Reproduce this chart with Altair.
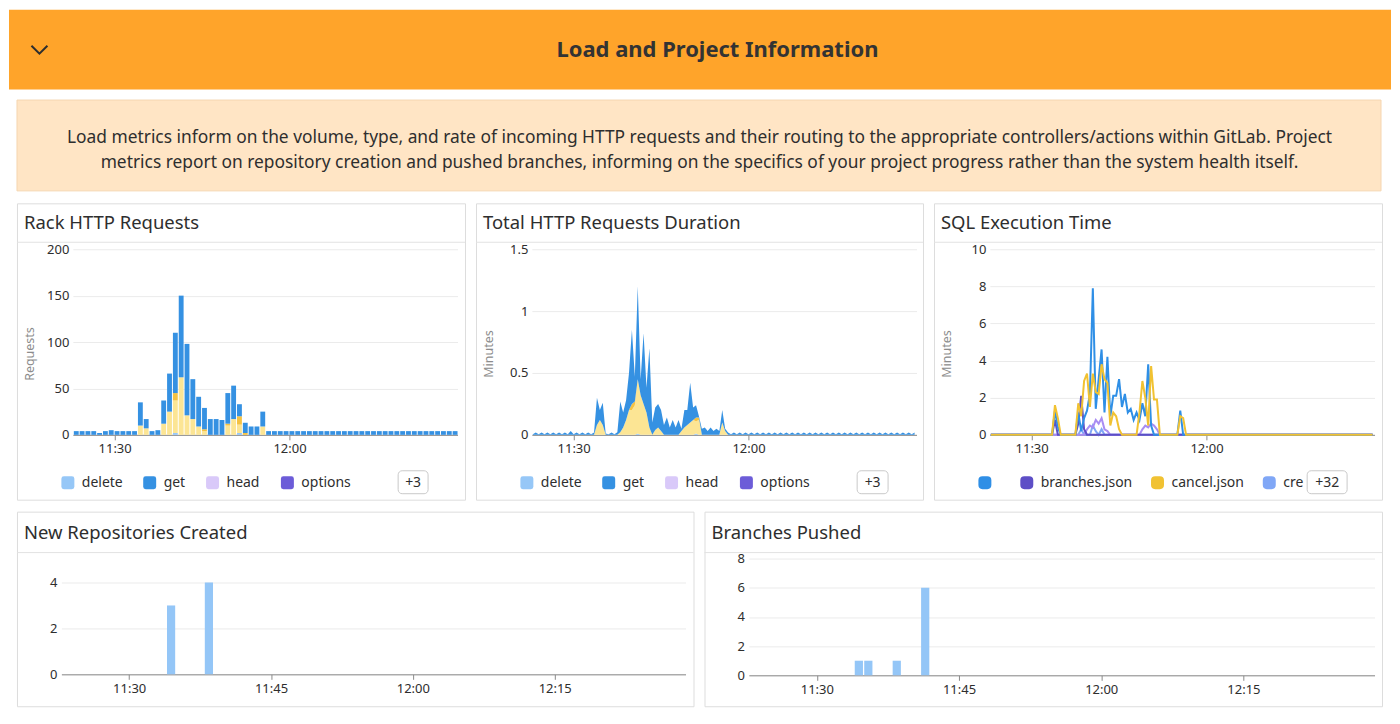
import altair as alt
import pandas as pd

# ------------------------------------------------------------------ style
FONT = "Noto Sans"
INK = "#2e2e2e"
MUTED = "#8c8c8c"
GRID = "#ebebeb"
AXIS_LINE = "#8a8a8a"
FRAME = "#e2e2e2"
ORANGE = "#ffa42a"
PEACH = "#ffe5c5"
PEACH_EDGE = "#f5d6b1"
BAR_BLUE = "#94c6f7"
ROUNDED_SQUARE = "M-0.62,-1H0.62Q1,-1,1,-0.62V0.62Q1,1,0.62,1H-0.62Q-1,1,-1,0.62V-0.62Q-1,-1,-0.62,-1Z"
SMALL_ROUNDED = "M-0.8,-1H0.8Q1,-1,1,-0.8V0.8Q1,1,0.8,1H-0.8Q-1,1,-1,0.8V-0.8Q-1,-1,-0.8,-1Z"
CHEVRON = "M-1,-0.5L0,0.5L1,-0.5"

# ------------------------------------------------------------------ texts
HEADER_TITLE = "Load and Project Information"
DESC_LINE_1 = ("Load metrics inform on the volume, type, and rate of incoming HTTP requests and their "
               "routing to the appropriate controllers/actions within GitLab. Project")
DESC_LINE_2 = ("metrics report on repository creation and pushed branches, informing on the specifics "
               "of your project progress rather than the system health itself.")
PANEL_TITLES = ["Rack HTTP Requests", "Total HTTP Requests Duration", "SQL Execution Time",
                "New Repositories Created", "Branches Pushed"]

# ------------------------------------------------------------------ time
SERIES_START = "2024-01-01 11:23:00"
def dt(h, m, s=0):
    return alt.DateTime(year=2024, month=1, date=1, hours=h, minutes=m, seconds=s)
X_DOMAIN = [dt(11, 22, 50), dt(12, 28, 50)]
TOP_TICKS = [dt(11, 30), dt(12, 0)]
BOTTOM_TICKS = [dt(11, 30), dt(11, 45), dt(12, 0), dt(12, 15)]

# ------------------------------------------------------------------ Rack HTTP Requests (per minute from 11:23)
RACK_METHODS = ["delete", "get", "head", "options", "patch", "post", "put"]
RACK_COLORS = ["#96c7f7", "#3591e2", "#d9c9f9", "#6c5cd8", "#f4a7c6", "#fce594", "#f5c242"]
RACK_STACK = ["delete", "post", "put", "patch", "head", "options", "get"]
RACK_LEGEND = ["delete", "get", "head", "options"]

rack_get = [4, 4, 4, 4, 2, 4, 5, 4, 4, 4,
            4, 25, 10, 4, 5, 25, 41, 65, 88, 77,
            43, 32, 23, 17, 17, 16, 33, 36, 13, 11,
            9, 9, 16, 4, 4, 4, 4, 4, 4, 4,
            4, 4, 4, 4, 4, 4, 4, 4, 4, 4,
            4, 4, 4, 4, 4, 4, 4, 4, 4, 4,
            4, 4, 4, 4, 4, 4]
rack_post = [0, 0, 0, 0, 0, 0, 0, 0, 0, 0,
             0, 10, 7, 0, 0, 12, 25, 35, 62, 21,
             17, 9, 4, 0, 0, 0, 10, 17, 9, 0,
             0, 0, 9, 0, 0, 0, 0, 0, 0, 0,
             0, 0, 0, 0, 0, 0, 0, 0, 0, 0,
             0, 0, 0, 0, 0, 0, 0, 0, 0, 0,
             0, 0, 0, 0, 0, 0]
rack_put = [0, 0, 0, 0, 0, 0, 0, 0, 0, 0,
            0, 0, 0, 0, 0, 0, 0, 8, 0, 0,
            0, 0, 2, 0, 0, 0, 2, 0, 9, 2,
            0, 0, 0, 0, 0, 0, 0, 0, 0, 0,
            0, 0, 0, 0, 0, 0, 0, 0, 0, 0,
            0, 0, 0, 0, 0, 0, 0, 0, 0, 0,
            0, 0, 0, 0, 0, 0]
rack_delete = [0, 0, 0, 0, 0, 0, 0, 0, 0, 0,
               0, 0, 0, 0, 0, 0, 0, 2, 0, 0,
               0, 0, 0, 0, 0, 0, 0, 0, 2, 0,
               0, 0, 0, 0, 0, 0, 0, 0, 0, 0,
               0, 0, 0, 0, 0, 0, 0, 0, 0, 0,
               0, 0, 0, 0, 0, 0, 0, 0, 0, 0,
               0, 0, 0, 0, 0, 0]

# ------------------------------------------------------------------ Total HTTP Requests Duration (minutes, every 30 s from 11:23)
dur_get = [0.004, 0.018, 0.004, 0.018, 0.004, 0.018, 0.004, 0.018, 0.004, 0.018, 0.004, 0.018,
           0.004, 0.03, 0.004, 0.018, 0.004, 0.018, 0.004, 0.018, 0.004, 0.018, 0.22, 0.08,
           0.18, 0.01, 0.004, 0.018, 0.005, 0.02, 0.25, 0.12, 0.16, 0.3, 0.6, 0.2,
           0.75, 0.13, 0.57, 0.2, 0.64, 0.1, 0.18, 0.19, 0.17, 0.08, 0.14, 0.06,
           0.12, 0.06, 0.12, 0.02, 0.14, 0.12, 0.32, 0.1, 0.1, 0.01, 0.05, 0.06,
           0.03, 0.06, 0.03, 0.05, 0.03, 0.1, 0.02, 0.018, 0.004, 0.018, 0.004, 0.018,
           0.004, 0.018, 0.004, 0.018, 0.004, 0.018, 0.004, 0.018, 0.004, 0.018, 0.004, 0.018,
           0.004, 0.018, 0.004, 0.018, 0.004, 0.018, 0.004, 0.018, 0.004, 0.018, 0.004, 0.018,
           0.004, 0.018, 0.004, 0.018, 0.004, 0.018, 0.004, 0.018, 0.004, 0.018, 0.004, 0.018,
           0.004, 0.018, 0.004, 0.018, 0.004, 0.018, 0.004, 0.018, 0.004, 0.018, 0.004, 0.018,
           0.004, 0.018, 0.004, 0.018, 0.004, 0.018, 0.004, 0.018, 0.004, 0.018, 0.004, 0.018]
dur_post = [0, 0, 0, 0, 0, 0, 0, 0, 0, 0, 0, 0,
            0, 0, 0, 0, 0, 0, 0, 0, 0, 0, 0.08, 0.12,
            0.08, 0, 0, 0, 0, 0, 0.02, 0.06, 0.12, 0.2, 0.2, 0.24,
            0.44, 0.32, 0.25, 0.18, 0.06, 0, 0.04, 0.06, 0.03, 0, 0, 0,
            0, 0, 0, 0.03, 0.06, 0.08, 0.1, 0.12, 0.1, 0.12, 0, 0,
            0, 0, 0, 0, 0, 0.1, 0.03, 0, 0, 0, 0, 0,
            0, 0, 0, 0, 0, 0, 0, 0, 0, 0, 0, 0,
            0, 0, 0, 0, 0, 0, 0, 0, 0, 0, 0, 0,
            0, 0, 0, 0, 0, 0, 0, 0, 0, 0, 0, 0,
            0, 0, 0, 0, 0, 0, 0, 0, 0, 0, 0, 0,
            0, 0, 0, 0, 0, 0, 0, 0, 0, 0, 0, 0]
dur_put = [0, 0, 0, 0, 0, 0, 0, 0, 0, 0, 0, 0,
           0, 0, 0, 0, 0, 0, 0, 0, 0, 0, 0, 0,
           0, 0, 0, 0, 0, 0, 0, 0, 0, 0, 0.05, 0.03,
           0, 0, 0, 0, 0, 0, 0, 0, 0, 0, 0, 0,
           0, 0, 0, 0, 0, 0, 0, 0, 0.03, 0.02, 0, 0,
           0, 0, 0, 0, 0, 0, 0, 0, 0, 0, 0, 0,
           0, 0, 0, 0, 0, 0, 0, 0, 0, 0, 0, 0,
           0, 0, 0, 0, 0, 0, 0, 0, 0, 0, 0, 0,
           0, 0, 0, 0, 0, 0, 0, 0, 0, 0, 0, 0,
           0, 0, 0, 0, 0, 0, 0, 0, 0, 0, 0, 0,
           0, 0, 0, 0, 0, 0, 0, 0, 0, 0, 0, 0]
dur_delete = [0, 0, 0, 0, 0, 0, 0, 0, 0, 0, 0, 0,
              0, 0, 0, 0, 0, 0, 0, 0, 0, 0, 0, 0,
              0, 0, 0, 0, 0, 0, 0, 0, 0, 0, 0, 0,
              0.01, 0, 0, 0, 0, 0, 0, 0, 0, 0, 0, 0,
              0, 0, 0, 0, 0, 0, 0, 0, 0.01, 0, 0, 0,
              0, 0, 0, 0, 0, 0, 0, 0, 0, 0, 0, 0,
              0, 0, 0, 0, 0, 0, 0, 0, 0, 0, 0, 0,
              0, 0, 0, 0, 0, 0, 0, 0, 0, 0, 0, 0,
              0, 0, 0, 0, 0, 0, 0, 0, 0, 0, 0, 0,
              0, 0, 0, 0, 0, 0, 0, 0, 0, 0, 0, 0,
              0, 0, 0, 0, 0, 0, 0, 0, 0, 0, 0, 0]

# ------------------------------------------------------------------ SQL Execution Time (minutes, every 30 s from 11:23)
SQL_SERIES = ["", "branches.json", "cancel.json", "create.json", "diffs.json"]
SQL_COLORS = ["#2f8fe6", "#5d4ec6", "#f1c232", "#80a7f6", "#a98df2"]
SQL_LEGEND = ["", "branches.json", "cancel.json", "create.json"]
SQL_DRAW_ORDER = ["create.json", "diffs.json", "branches.json", "", "cancel.json"]

sql_blank = [0, 0, 0, 0, 0, 0, 0, 0, 0, 0, 0, 0,
             0, 0, 0, 0, 0, 0, 0, 0, 0, 0, 1.3, 0.4,
             0, 0, 0, 0, 0, 0, 1.2, 0.2, 0.9, 1.3, 2.2, 7.9,
             1.4, 3.0, 4.6, 1.2, 4.2, 1.0, 2.1, 2.1, 3.0, 1.5, 2.2, 1.2,
             1.4, 0.8, 1.2, 0.8, 1.7, 1.0, 3.8, 0.5, 0, 0, 0, 0,
             0, 0, 0, 0, 0, 1.3, 0, 0, 0, 0, 0, 0,
             0, 0, 0, 0, 0, 0, 0, 0, 0, 0, 0, 0,
             0, 0, 0, 0, 0, 0, 0, 0, 0, 0, 0, 0,
             0, 0, 0, 0, 0, 0, 0, 0, 0, 0, 0, 0,
             0, 0, 0, 0, 0, 0, 0, 0, 0, 0, 0, 0,
             0, 0, 0, 0, 0, 0, 0, 0, 0, 0, 0, 0]
sql_branches = [0, 0, 0, 0, 0, 0, 0, 0, 0, 0, 0, 0,
                0, 0, 0, 0, 0, 0, 0, 0, 0, 0, 0.8, 0,
                0, 0, 0, 0, 0, 0, 0.6, 2.1, 0.3, 0, 0, 0,
                0, 0, 0, 0, 0, 0, 0, 0, 0, 0, 0, 0,
                0, 0, 0, 0, 0, 0, 0, 0, 0, 0, 0, 0,
                0, 0, 0, 0, 0, 0, 0, 0, 0, 0, 0, 0,
                0, 0, 0, 0, 0, 0, 0, 0, 0, 0, 0, 0,
                0, 0, 0, 0, 0, 0, 0, 0, 0, 0, 0, 0,
                0, 0, 0, 0, 0, 0, 0, 0, 0, 0, 0, 0,
                0, 0, 0, 0, 0, 0, 0, 0, 0, 0, 0, 0,
                0, 0, 0, 0, 0, 0, 0, 0, 0, 0, 0, 0]
sql_cancel = [0, 0, 0, 0, 0, 0, 0, 0, 0, 0, 0, 0,
              0, 0, 0, 0, 0, 0, 0, 0, 0, 0, 1.6, 0.9,
              0, 0, 0, 0, 0, 0, 1.7, 1.0, 2.9, 3.3, 1.5, 3.3,
              2.3, 2.2, 3.8, 3.0, 2.8, 0.5, 1.2, 1.0, 0.3, 0, 0, 0,
              0, 0, 0, 1.2, 2.9, 2.0, 0.5, 3.7, 1.9, 1.9, 0, 0,
              0, 0, 0, 0, 0, 1.0, 0.9, 0, 0, 0, 0, 0,
              0, 0, 0, 0, 0, 0, 0, 0, 0, 0, 0, 0,
              0, 0, 0, 0, 0, 0, 0, 0, 0, 0, 0, 0,
              0, 0, 0, 0, 0, 0, 0, 0, 0, 0, 0, 0,
              0, 0, 0, 0, 0, 0, 0, 0, 0, 0, 0, 0,
              0, 0, 0, 0, 0, 0, 0, 0, 0, 0, 0, 0]
sql_create = [0, 0, 0, 0, 0, 0, 0, 0, 0, 0, 0, 0,
              0, 0, 0, 0, 0, 0, 0, 0, 0, 0, 0, 0,
              0, 0, 0, 0, 0, 0, 0, 0.3, 0, 0, 0, 0.5,
              0.2, 0, 0.3, 0, 0, 0, 0, 0, 0, 0, 0, 0,
              0, 0, 0, 0, 0, 0, 0, 0, 0, 0, 0, 0,
              0, 0, 0, 0, 0, 0, 0, 0, 0, 0, 0, 0,
              0, 0, 0, 0, 0, 0, 0, 0, 0, 0, 0, 0,
              0, 0, 0, 0, 0, 0, 0, 0, 0, 0, 0, 0,
              0, 0, 0, 0, 0, 0, 0, 0, 0, 0, 0, 0,
              0, 0, 0, 0, 0, 0, 0, 0, 0, 0, 0, 0,
              0, 0, 0, 0, 0, 0, 0, 0, 0, 0, 0, 0]
sql_diffs = [0, 0, 0, 0, 0, 0, 0, 0, 0, 0, 0, 0,
             0, 0, 0, 0, 0, 0, 0, 0, 0, 0, 0, 0,
             0, 0, 0, 0, 0, 0, 0, 0, 0, 0.3, 0.5, 0.4,
             0.8, 0.6, 0.9, 0.3, 0.2, 0, 0, 0, 0, 0, 0, 0,
             0, 0, 0, 0, 0.3, 0.5, 0.4, 0.6, 0.5, 0.3, 0, 0,
             0, 0, 0, 0, 0, 0, 0, 0, 0, 0, 0, 0,
             0, 0, 0, 0, 0, 0, 0, 0, 0, 0, 0, 0,
             0, 0, 0, 0, 0, 0, 0, 0, 0, 0, 0, 0,
             0, 0, 0, 0, 0, 0, 0, 0, 0, 0, 0, 0,
             0, 0, 0, 0, 0, 0, 0, 0, 0, 0, 0, 0,
             0, 0, 0, 0, 0, 0, 0, 0, 0, 0, 0, 0]

# ------------------------------------------------------------------ project metrics
repo_minutes = ["11:34", "11:38"]
repo_counts = [3, 4]
branch_minutes = ["11:34", "11:35", "11:38", "11:41"]
branch_counts = [1, 1, 1, 6]

# ------------------------------------------------------------------ tables
def iso(t):
    return t.strftime("%Y-%m-%dT%H:%M:%S")

start = pd.Timestamp(SERIES_START)
TOP_BAR = pd.Timedelta(seconds=50)
BOTTOM_BAR = pd.Timedelta(seconds=52)

rack_rows = []
for k in range(len(rack_get)):
    t0 = start + pd.Timedelta(minutes=k)
    for name, series in (("delete", rack_delete), ("post", rack_post), ("put", rack_put), ("get", rack_get)):
        if series[k] > 0:
            rack_rows.append({"t": iso(t0), "t_end": iso(t0 + TOP_BAR), "method": name,
                              "requests": series[k], "rank": RACK_STACK.index(name)})
rack_df = pd.DataFrame(rack_rows)

dur_rows = []
for i in range(len(dur_get)):
    t = iso(start + pd.Timedelta(seconds=30 * i))
    for name, series in (("delete", dur_delete), ("post", dur_post), ("put", dur_put), ("get", dur_get)):
        dur_rows.append({"t": t, "method": name, "minutes": series[i], "rank": RACK_STACK.index(name)})
dur_df = pd.DataFrame(dur_rows)

sql_values = {"": sql_blank, "branches.json": sql_branches, "cancel.json": sql_cancel,
              "create.json": sql_create, "diffs.json": sql_diffs}
sql_rows = []
for name in SQL_DRAW_ORDER:
    for i, v in enumerate(sql_values[name]):
        sql_rows.append({"t": iso(start + pd.Timedelta(seconds=30 * i)), "series": name, "minutes": v})
sql_df = pd.DataFrame(sql_rows)

def minute_bars(minutes, counts):
    rows = []
    for m, c in zip(minutes, counts):
        t0 = pd.Timestamp(f"2024-01-01 {m}:00")
        rows.append({"t": iso(t0), "t_end": iso(t0 + BOTTOM_BAR), "count": c})
    return pd.DataFrame(rows)

repo_df = minute_bars(repo_minutes, repo_counts)
branch_df = minute_bars(branch_minutes, branch_counts)

ONE = pd.DataFrame({"k": [0]})

# ------------------------------------------------------------------ helpers
def deco_text(text, x, y, size, color=INK, **kw):
    return alt.Chart(ONE).mark_text(text=text, font=FONT, fontSize=size, color=color, **kw).encode(
        x=alt.value(x), y=alt.value(y))

def deco_rect(x1, x2, y1, y2, **kw):
    return alt.Chart(ONE).mark_rect(**kw).encode(
        x=alt.value(x1), x2=alt.value(x2), y=alt.value(y1), y2=alt.value(y2))

def deco_hline(x1, x2, y, color):
    return alt.Chart(ONE).mark_rule(color=color, strokeWidth=1).encode(
        x=alt.value(x1), x2=alt.value(x2), y=alt.value(y))

def panel_head(title, width, title_y, rule_y):
    return [deco_text(title, 7, title_y, 18.5, align="left", baseline="middle"),
            deco_hline(0, width, rule_y, FRAME)]

def more_button(label, x1, x2, y1=268, y2=291):
    return [deco_rect(x1, x2, y1, y2, fill="white", stroke="#c9c9c9", strokeWidth=1, cornerRadius=4),
            deco_text(label, (x1 + x2) / 2, (y1 + y2) / 2 + 0.5, 14, align="center", baseline="middle")]

def y_title(text, x, y):
    return deco_text(text, x, y, 12.5, color=MUTED, angle=270, align="center", baseline="middle")

def left_spacer():
    return deco_rect(-8, 0, 0, 1, fill="white", opacity=0)

def time_x(field, rng, ticks, offset):
    return alt.X(f"{field}:T",
                 scale=alt.Scale(domain=X_DOMAIN, range=rng, nice=False, padding=0),
                 axis=alt.Axis(values=ticks, format="%H:%M", title=None, grid=False, domain=True,
                               domainColor=AXIS_LINE, domainWidth=1, ticks=True, tickColor=AXIS_LINE,
                               tickSize=5, tickWidth=1, labelPadding=3, labelFontSize=13,
                               labelColor=INK, labelFont=FONT, labelFlush=False, offset=offset))

def value_y(field, domain, rng, values, offset, pad=4, stack=None, label_expr=None):
    kw = {}
    if stack:
        kw["stack"] = stack
    akw = dict(values=values, title=None, grid=True, gridColor=GRID, gridWidth=1, domain=False,
               ticks=False, tickSize=0, labelPadding=pad, labelFontSize=13, labelColor=INK,
               labelFont=FONT, offset=offset)
    if label_expr:
        akw["labelExpr"] = label_expr
    return alt.Y(f"{field}:Q",
                 scale=alt.Scale(domain=domain, range=rng, nice=False, padding=0),
                 axis=alt.Axis(**akw), **kw)

def legend_for(values, x, y=273, label_expr=None, symbol=ROUNDED_SQUARE, size=169, stroke_w=0,
               col_pad=20):
    kw = dict(values=values, orient="none", legendX=x, legendY=y, direction="horizontal", title=None,
              symbolType=symbol, symbolSize=size, symbolStrokeWidth=stroke_w, symbolOpacity=1,
              labelFontSize=14, labelColor=INK, labelFont=FONT, labelOffset=7, columnPadding=col_pad,
              padding=0, labelLimit=300)
    if label_expr:
        kw["labelExpr"] = label_expr
    return alt.Legend(**kw)

TOP_W = [449, 448, 449]
TOP_H = 297
TOP_XR = [56, 441.5]
TOP_YR = [232, 46]

# ------------------------------------------------------------------ header
header = alt.layer(
    deco_rect(-8, 1377, 0, 80, fill=ORANGE),
    alt.Chart(ONE).mark_point(shape=CHEVRON, size=256, filled=False, stroke=INK, strokeWidth=2,
                              opacity=1).encode(x=alt.value(22.5), y=alt.value(40)),
    deco_text(HEADER_TITLE, 702, 40, 22, color="#333333", fontWeight="bold", align="center",
              baseline="middle"),
    deco_rect(0, 1367, 90.5, 181.5, fill=PEACH, stroke=PEACH_EDGE, strokeWidth=1),
    deco_text(DESC_LINE_1, 684, 129, 17.4, align="center", baseline="middle"),
    deco_text(DESC_LINE_2, 684, 154, 17.4, align="center", baseline="middle"),
).properties(width=1367, height=182, view=alt.ViewBackground(stroke="transparent", fill="transparent"))

# ------------------------------------------------------------------ panel 1
rack_color = alt.Color("method:N", scale=alt.Scale(domain=RACK_METHODS, range=RACK_COLORS),
                       legend=legend_for(RACK_LEGEND, 44))
p1_bars = alt.Chart(rack_df).mark_bar(opacity=1, orient="vertical").encode(
    x=time_x("t", TOP_XR, TOP_TICKS, -(TOP_H - TOP_YR[0])),
    x2="t_end:T",
    y=value_y("requests", [0, 200], TOP_YR, [0, 50, 100, 150, 200], -TOP_XR[0], stack="zero"),
    color=rack_color,
    order=alt.Order("rank:Q"),
)
p1 = alt.layer(left_spacer(), *panel_head(PANEL_TITLES[0], TOP_W[0], 20, 39),
               y_title("Requests", 13, 151), p1_bars, *more_button("+3", 382, 412)
               ).properties(width=TOP_W[0], height=TOP_H)

# ------------------------------------------------------------------ panel 2
dur_color = alt.Color("method:N", scale=alt.Scale(domain=RACK_METHODS, range=RACK_COLORS),
                      legend=legend_for(RACK_LEGEND, 44))
p2_area = alt.Chart(dur_df).mark_area(opacity=1, interpolate="linear").encode(
    x=time_x("t", TOP_XR, TOP_TICKS, -(TOP_H - TOP_YR[0])),
    y=value_y("minutes", [0, 1.5], TOP_YR, [0, 0.5, 1, 1.5], -TOP_XR[0], stack="zero",
              label_expr="format(datum.value, '~g')"),
    color=dur_color,
    order=alt.Order("rank:Q"),
)
p2 = alt.layer(*panel_head(PANEL_TITLES[1], TOP_W[1], 20, 39), y_title("Minutes", 13, 151),
               p2_area, *more_button("+3", 382, 413)).properties(width=TOP_W[1], height=TOP_H)

# ------------------------------------------------------------------ panel 3
sql_scale = alt.Scale(domain=SQL_SERIES, range=SQL_COLORS)
p3_lines = alt.Chart(sql_df).mark_line(strokeWidth=2, opacity=1, interpolate="linear").encode(
    x=time_x("t", TOP_XR, TOP_TICKS, -(TOP_H - TOP_YR[0])),
    y=value_y("minutes", [0, 10], TOP_YR, [0, 2, 4, 6, 8, 10], -TOP_XR[0]),
    color=alt.Color("series:N", scale=sql_scale,
                    legend=legend_for(SQL_LEGEND, 44, symbol=SMALL_ROUNDED, size=36, stroke_w=7,
                                      col_pad=8,
                                      label_expr="datum.label == 'create.json' ? 'cre' : datum.label")),
    detail="series:N",
)
p3 = alt.layer(*panel_head(PANEL_TITLES[2], TOP_W[2], 20, 39), y_title("Minutes", 13, 151),
               p3_lines, *more_button("+32", 374, 414)
               ).properties(width=TOP_W[2], height=TOP_H)

# ------------------------------------------------------------------ bottom panels
BOT_H = 195

p4_bars = alt.Chart(repo_df).mark_bar(color=BAR_BLUE, opacity=1, orient="vertical").encode(
    x=time_x("t", [44.5, 670], BOTTOM_TICKS, -(BOT_H - 163)),
    x2="t_end:T",
    y=value_y("count", [0, 5], [163, 48], [0, 2, 4], -44.5, pad=4.5),
)
p4 = alt.layer(left_spacer(), *panel_head(PANEL_TITLES[3], 678, 21, 41), p4_bars
               ).properties(width=678, height=BOT_H)

p5_bars = alt.Chart(branch_df).mark_bar(color=BAR_BLUE, opacity=1, orient="vertical").encode(
    x=time_x("t", [44.5, 671.5], BOTTOM_TICKS, -(BOT_H - 164)),
    x2="t_end:T",
    y=value_y("count", [0, 8], [164, 47], [0, 2, 4, 6, 8], -44.5, pad=4.5),
)
p5 = alt.layer(*panel_head(PANEL_TITLES[4], 679, 21, 41), p5_bars).properties(width=679, height=BOT_H)

# ------------------------------------------------------------------ layout
row1 = alt.hconcat(p1, p2, p3, spacing=9).resolve_scale(color="independent").resolve_legend(color="independent")
row2 = alt.hconcat(p4, p5, spacing=9)

chart = alt.vconcat(header, row1, row2, spacing=10).resolve_scale(
    color="independent"
).resolve_legend(
    color="independent"
).properties(
    padding=0, background="white"
).configure_view(
    fill="white", stroke=FRAME, strokeWidth=1
).configure(font=FONT)

chart.save("out.html", embed_options={"renderer": "svg", "actions": False})
